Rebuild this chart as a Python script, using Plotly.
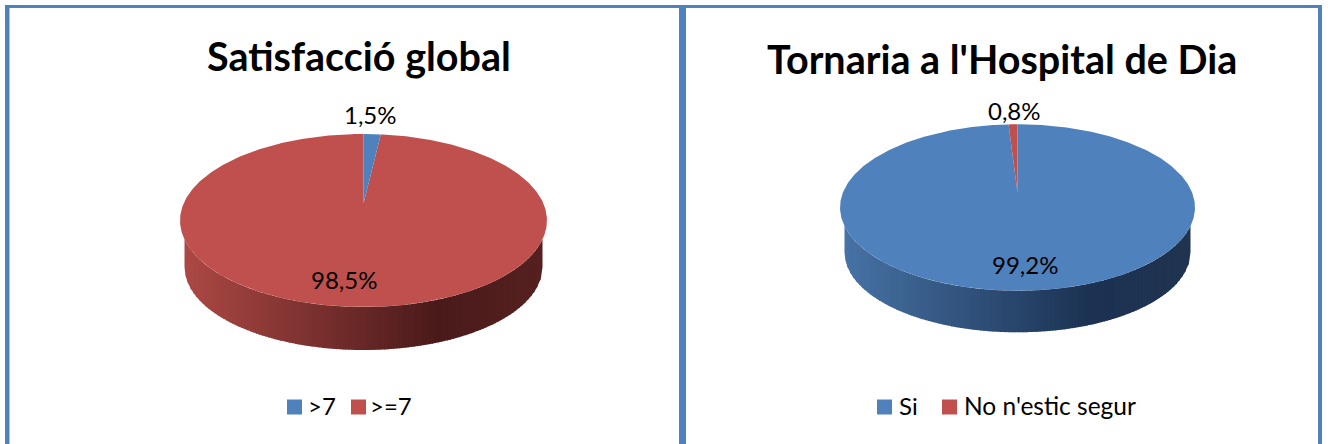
import math
import numpy as np
import plotly.graph_objects as go

# ---- data ----
titles = ["Satisfacció global", "Tornaria a l'Hospital de Dia"]
sat_categories = [">7", ">=7"]
sat_values = [1.5, 98.5]
torn_categories = ["Si", "No n'estic segur"]
torn_values = [99.2, 0.8]

BLUE = "#4F81BD"
RED = "#C0504D"
W, H = 1328, 444
FONT = "Lato"

def lerp(a, b, t):
    return tuple(a[i] + (b[i] - a[i]) * t for i in range(3))

def css(c):
    return "rgb(%d,%d,%d)" % tuple(round(v) for v in c)

def sector(g, start, end):
    n = max(3, int(abs(end - start) * 2))
    th = np.radians(np.linspace(start, end, n))
    ax, ay = g["cx"], g["cy"] + g["apex_dy"]
    xs = [ax] + list(g["cx"] + g["rx"] * np.sin(th)) + [ax]
    ys = [ay] + list(g["cy"] - g["ry"] * np.cos(th)) + [ay]
    return xs, ys

def draw_pie(fig, values, colors, g, shade):
    # side wall: vertical strips shaded left-to-right, each overlapping the next
    n = 120
    edges = np.linspace(g["cx"] - g["brx"], g["cx"] + g["brx"], n + 1)
    for i in range(n):
        x0 = edges[i]
        x1 = min(edges[i + 1] + 1.0, edges[-1])
        xm = np.linspace(x0, x1, 5)
        top = g["cy"] + g["ry"] * np.sqrt(np.clip(1 - ((xm - g["cx"]) / g["rx"]) ** 2, 0, 1))
        bot = g["bcy"] + g["bry"] * np.sqrt(np.clip(1 - ((xm - g["cx"]) / g["brx"]) ** 2, 0, 1))
        t = (x0 - edges[0]) / (edges[-1] - edges[0])
        if t < shade["mid"]:
            c = lerp(shade["left"], shade["dark"], t / shade["mid"])
        else:
            c = lerp(shade["dark"], shade["right"], (t - shade["mid"]) / (1 - shade["mid"]))
        col = css(c)
        fig.add_trace(go.Scatter(x=list(xm) + list(xm[::-1]) + [xm[0]],
                                 y=list(top) + list(bot[::-1]) + [top[0]],
                                 mode="lines", fill="toself", fillcolor=col,
                                 line=dict(color=col, width=0), hoverinfo="skip", showlegend=False))
    # top face: slices clockwise from 12 o'clock, largest first so the thin wedge lies above
    total = sum(values)
    angle = 0.0
    parts = []
    for v, col in zip(values, colors):
        sweep = 360.0 * v / total
        parts.append((v, angle, angle + sweep, col))
        angle += sweep
    for v, a0, a1, col in sorted(parts, key=lambda p: -p[0]):
        xs, ys = sector(g, a0, a1)
        fig.add_trace(go.Scatter(x=xs, y=ys, mode="lines", fill="toself", fillcolor=col,
                                 line=dict(color=col, width=0), hoverinfo="skip", showlegend=False))

def label(text, x, y, size, bold=False, anchor="center"):
    t = "<b>%s</b>" % text if bold else text
    return dict(text=t, x=x, y=y, xref="x", yref="y", showarrow=False, xanchor=anchor, yanchor="middle",
                font=dict(family=FONT, size=size, color="#000000"))

def fmt(v):
    return ("%.1f%%" % v).replace(".", ",")

fig = go.Figure()

geo_left = dict(cx=363.5, cy=220.5, rx=183.5, ry=86.5, brx=179, bcy=267, bry=83, apex_dy=-17)
geo_right = dict(cx=1017.5, cy=207.5, rx=177.5, ry=83.2, brx=173, bcy=252.3, bry=80, apex_dy=-15)
shade_red = dict(left=(172, 72, 68), dark=(74, 26, 26), right=(86, 32, 32), mid=0.70)
shade_blue = dict(left=(70, 114, 165), dark=(28, 50, 82), right=(32, 52, 80), mid=0.70)

draw_pie(fig, sat_values, [BLUE, RED], geo_left, shade_red)
draw_pie(fig, torn_values, [BLUE, RED], geo_right, shade_blue)

# legend swatches
swatch_x = [294.5, 358.5, 884.5, 949.5]
swatch_c = [BLUE, RED, BLUE, RED]
fig.add_trace(go.Scatter(x=swatch_x, y=[407] * 4, mode="markers",
                         marker=dict(symbol="square", size=15, color=swatch_c, line=dict(width=0)),
                         hoverinfo="skip", showlegend=False))

annotations = [
    label(titles[0], 358.5, 55, 39.5, bold=True),
    label(titles[1], 1002, 58, 39.5, bold=True),
    label(fmt(sat_values[0]), 370, 114, 24),
    label(fmt(sat_values[1]), 344, 279, 24),
    label(fmt(torn_values[1]), 1014, 110, 24),
    label(fmt(torn_values[0]), 1025, 264, 24),
    label(sat_categories[0], 306, 405, 24, anchor="left"),
    label(sat_categories[1], 368, 405, 24, anchor="left"),
    label(torn_categories[0], 897, 405, 24, anchor="left"),
    label(torn_categories[1], 962, 405, 24.5, anchor="left"),
]

frame = []
for x0, y0, x1, y1 in [(5, 5, 1322, 8), (5, 5, 9.5, 444), (679, 5, 686, 444), (1318, 5, 1322, 444)]:
    frame.append(dict(type="rect", xref="x", yref="y", x0=x0, y0=y0, x1=x1, y1=y1,
                      fillcolor=BLUE, line=dict(width=0), layer="below"))

fig.update_layout(
    width=W, height=H, margin=dict(l=0, r=0, t=0, b=0),
    paper_bgcolor="white", plot_bgcolor="white", showlegend=False,
    xaxis=dict(range=[0, W], visible=False, fixedrange=True),
    yaxis=dict(range=[H, 0], visible=False, fixedrange=True),
    annotations=annotations, shapes=frame,
)
fig.write_html("out.html", config=dict(displayModeBar=False),
               post_script="document.body.style.margin='0';document.documentElement.style.overflow='hidden';")
